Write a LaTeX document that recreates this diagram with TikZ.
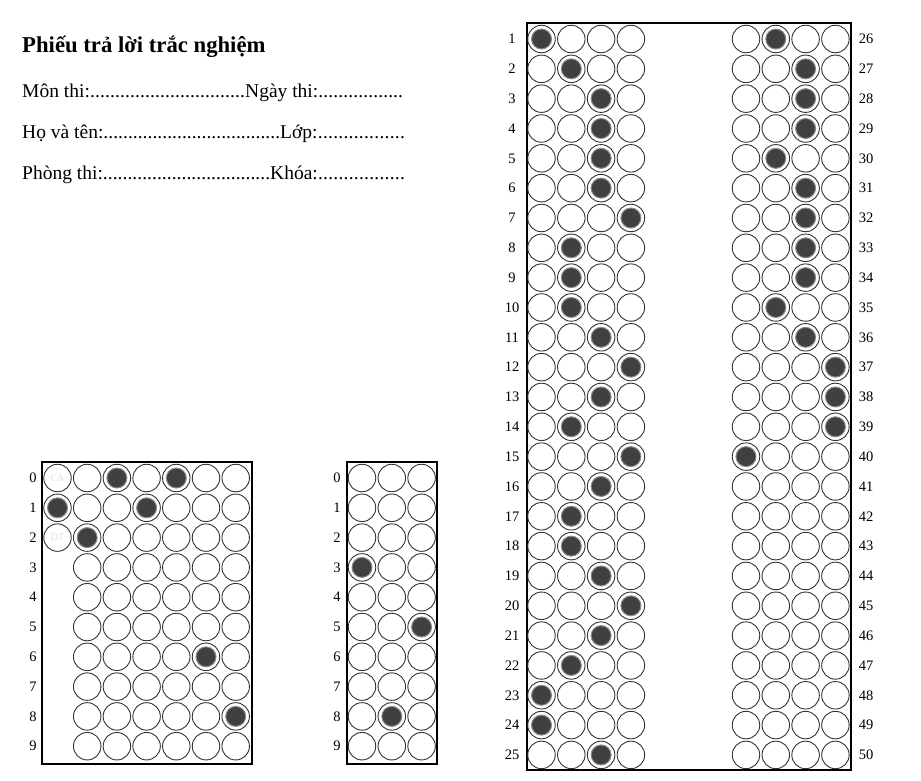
\documentclass[tikz,border=0pt]{standalone}
\usepackage{fontspec}
\setmainfont{Liberation Serif}
\tikzset{
  otron/.style={draw=black!80,circle,line width=0.9pt,minimum size=27.5pt,inner sep=0pt},
  toden/.style={circle,fill=black!75,draw=black!45,line width=1pt,minimum size=20pt,inner sep=0pt},
  khung/.style={draw,line width=1.8pt},
  so/.style={font=\fontsize{14.5}{14.5}\selectfont,inner sep=0pt},
  mo/.style={font=\fontsize{10}{10}\selectfont,text=black!12},
  dong/.style={anchor=base west,inner sep=0pt,font=\fontsize{19.5}{19.5}\selectfont}
}
\newcommand{\cham}[2]{\hbox to #1{#2\xleaders\hbox{.}\hfill}}
\begin{document}
\begin{tikzpicture}[x=1pt,y=-1pt]
        \useasboundingbox (0,0) rectangle (921,780);

        % tieu de
        \node[dong,font=\fontsize{22.7}{22.7}\selectfont\bfseries] (tieude) at (22,52) {Phiếu trả lời trắc nghiệm};
        \node[dong] (mon) at (22,97) {\cham{223pt}{Môn thi:}\cham{158pt}{Ngày thi:}};
        \node[dong] (ten) at (22,138) {\cham{258pt}{Họ và tên:}\cham{125pt}{Lớp:}};
        \node[dong] (phong) at (22,179) {\cham{248pt}{Phòng thi:}\cham{135pt}{Khóa:}};

        % khung
        \draw[khung] (527,23) rectangle (851,770);
        \draw[khung] (42,462) rectangle (252,764);
        \draw[khung] (347,462) rectangle (437,764);

        % phan tra loi
        \foreach \i in {1,...,25} {
            \pgfmathsetmacro\yy{39+(\i-1)*29.83}
            \pgfmathtruncatemacro\k{\i+25}
            \node[so] (nhan\i) at (512,\yy) {\i};
            \node[so] (nhan\k) at (866,\yy) {\k};
            \foreach \j in {1,...,4} {
                \node[otron] (c-\i-\j) at ({541.5+(\j-1)*29.8},\yy) {};
                \node[otron] (c-\k-\j) at ({746+(\j-1)*29.8},\yy) {};
            }
        }
        \foreach \i/\j in {1/1,2/2,3/3,4/3,5/3,6/3,7/4,8/2,9/2,10/2,11/3,12/4,13/3,14/2,15/4,16/3,17/2,18/2,19/3,20/4,21/3,22/2,23/1,24/1,25/3,26/2,27/3,28/3,29/3,30/2,31/3,32/3,33/3,34/3,35/2,36/3,37/4,38/4,39/4,40/1}
            \node[toden] (d-\i) at (c-\i-\j) {};

        % so bao danh
        \foreach \r in {0,...,9} {
            \pgfmathsetmacro\yy{478+\r*29.8}
            \node[so] (sbd\r) at (33,\yy) {\r};
            \node[so] (md\r) at (337,\yy) {\r};
            \foreach \j in {2,...,7}
                \node[otron] (s-\r-\j) at ({57.5+(\j-1)*29.7},\yy) {};
            \foreach \j in {1,...,3}
                \node[otron] (m-\r-\j) at ({362+(\j-1)*29.8},\yy) {};
        }
        \foreach \r/\t in {0/CA,1/AT,2/DT}
            \node[otron,mo] (s-\r-1) at (57.5,{478+\r*29.8}) {\t};
        \foreach \r/\j in {0/3,0/5,1/1,1/4,2/2,6/6,8/7}
            \node[toden] (ds-\r-\j) at (s-\r-\j) {};

        % ma de
        \foreach \r/\j in {3/1,5/3,8/2}
            \node[toden] (dm-\r) at (m-\r-\j) {};
    \end{tikzpicture}
\end{document}
